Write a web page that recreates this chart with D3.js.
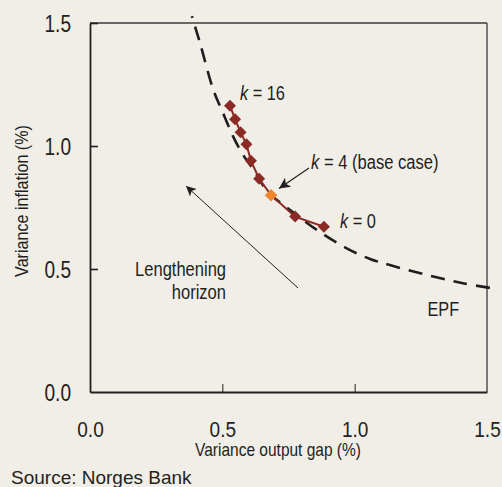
<!DOCTYPE html>
<html><head><meta charset="utf-8">
<script src="https://cdn.jsdelivr.net/npm/d3@7"></script>
<style>
html,body{margin:0;padding:0;background:#f1eee8;}
svg{display:block;}
text{font-family:"Liberation Sans",Arial,sans-serif;fill:#231f20;}
</style></head><body>
<svg id="c" width="502" height="487"></svg>
<script>
// Data
const xTicks = [0.0, 0.5, 1.0, 1.5];
const yTicks = [0.0, 0.5, 1.0, 1.5];
const xTickLabels = ["0.0", "0.5", "1.0", "1.5"];
const yTickLabels = ["0.0", "0.5", "1.0", "1.5"];
// Policy points from k = 16 down to k = 0
const kOutputGap = [0.529, 0.548, 0.569, 0.591, 0.608, 0.639, 0.684, 0.775, 0.884];
const kInflation = [1.164, 1.109, 1.056, 1.007, 0.940, 0.867, 0.800, 0.713, 0.672];
const baseCaseIndex = 6; // k = 4
// Efficient policy frontier (EPF)
const epfOutputGap = [0.385, 0.416, 0.466, 0.498, 0.541, 0.579, 0.62, 0.672, 0.756, 0.857, 0.970, 1.058, 1.133, 1.272, 1.409, 1.530];
const epfInflation = [1.528, 1.417, 1.228, 1.146, 1.038, 0.963, 0.90, 0.814, 0.740, 0.659, 0.584, 0.541, 0.516, 0.476, 0.442, 0.420];

const svg = d3.select("#c");
const L = 90, R = 487, T = 23, B = 392;
const x = d3.scaleLinear().domain([0, 1.5]).range([L, R]);
const y = d3.scaleLinear().domain([0, 1.5]).range([B, T]);
const COND = 0.83; // condensed look

const defs = svg.append("defs");
defs.append("marker").attr("id","ah").attr("viewBox","0 0 10 10").attr("refX",10).attr("refY",5)
  .attr("markerWidth",12).attr("markerHeight",10).attr("markerUnits","userSpaceOnUse").attr("orient","auto")
  .append("path").attr("d","M0,0 L10,5 L0,10 L2.5,5 Z").attr("fill","#231f20");
defs.append("marker").attr("id","ah2").attr("viewBox","0 0 10 10").attr("refX",10).attr("refY",5)
  .attr("markerWidth",13).attr("markerHeight",11).attr("markerUnits","userSpaceOnUse").attr("orient","auto")
  .append("path").attr("d","M0,0 L10,5 L0,10 L2.5,5 Z").attr("fill","#231f20");

// frame: top & right
svg.append("line").attr("x1",L).attr("x2",R).attr("y1",T).attr("y2",T).attr("stroke","#3a3a3a").attr("stroke-width",1.3);
svg.append("line").attr("x1",R).attr("x2",R).attr("y1",T).attr("y2",B).attr("stroke","#3a3a3a").attr("stroke-width",1.3);

// axes
const xAxis = d3.axisBottom(x).tickValues(xTicks).tickSize(-8).tickFormat((d,i)=>xTickLabels[i]).tickSizeOuter(0);
const gx = svg.append("g").attr("transform",`translate(0,${B})`).call(xAxis);
gx.select(".domain").attr("stroke","#231f20").attr("stroke-width",1.8);
gx.selectAll(".tick line").attr("stroke","#231f20").attr("stroke-width",1).filter(d=>d===0||d===1.5).remove();
gx.selectAll(".tick text").attr("font-size",22.5).attr("y",0).attr("dy","0.71em")
  .attr("transform",`translate(0,29) scale(${COND*1.02},1)`)
  .style("font-family",'"Liberation Sans",Arial,sans-serif').attr("fill","#231f20");

const yAxis = d3.axisLeft(y).tickValues(yTicks).tickSize(-8).tickFormat((d,i)=>yTickLabels[i]).tickSizeOuter(0);
const gy = svg.append("g").attr("transform",`translate(${L},0)`).call(yAxis);
gy.select(".domain").attr("stroke","#231f20").attr("stroke-width",1.8);
gy.selectAll(".tick line").attr("stroke","#231f20").attr("stroke-width",1.6).filter(d=>d===0).remove();
gy.selectAll(".tick text").attr("font-size",23).attr("x",0).attr("dy","0.36em")
  .attr("transform",`translate(-19,0) scale(${COND},1)`)
  .style("font-family",'"Liberation Sans",Arial,sans-serif').attr("fill","#231f20");
svg.selectAll(".domain").attr("fill","none");

// helper: condensed text fitted to a width
function fitText(tr, size, anchor, width, build){
  const g = svg.append("g").attr("transform", tr);
  const t = g.append("text").attr("font-size", size).attr("text-anchor", anchor);
  build(t);
  const w = t.node().getComputedTextLength();
  t.attr("transform", `scale(${width / w},1)`);
  return t;
}

// axis titles
fitText("translate(278,456)", 18, "middle", 166, t=>t.text("Variance output gap (%)"));
fitText("translate(28,201) rotate(-90)", 18.5, "middle", 152, t=>t.text("Variance inflation (%)"));
svg.append("text").attr("x",11).attr("y",484).attr("font-size",19).text("Source: Norges Bank");

// EPF curve
const epf = epfOutputGap.map((v,i)=>[v, epfInflation[i]]);
svg.append("path").datum(epf)
  .attr("d", d3.line().x(d=>x(d[0])).y(d=>y(d[1])).curve(d3.curveCatmullRom))
  .attr("fill","none").attr("stroke","#1f1d1d").attr("stroke-width",2.6)
  .attr("stroke-dasharray","14,9").attr("stroke-dashoffset",12);

// policy line
const pts = kOutputGap.map((v,i)=>[v, kInflation[i]]);
svg.append("path").datum(pts)
  .attr("d", d3.line().x(d=>x(d[0])).y(d=>y(d[1])))
  .attr("fill","none").attr("stroke","#8b2a24").attr("stroke-width",2);
const sym = d3.symbol().type(d3.symbolSquare);
svg.selectAll("path.pt").data(pts).join("path").attr("class","pt")
  .attr("transform",d=>`translate(${x(d[0])},${y(d[1])}) rotate(45)`)
  .attr("d",(d,i)=> sym.size(i===baseCaseIndex?80:72)())
  .attr("fill",(d,i)=> i===baseCaseIndex ? "#f0862e" : "#8b2a24");

// arrows
svg.append("line").attr("x1",298).attr("y1",288).attr("x2",186).attr("y2",186)
  .attr("stroke","#231f20").attr("stroke-width",1).attr("marker-end","url(#ah)");
svg.append("line").attr("x1",309).attr("y1",168).attr("x2",279).attr("y2",188.5)
  .attr("stroke","#231f20").attr("stroke-width",1.2).attr("marker-end","url(#ah2)");

// labels
function kLabel(xp, yp, rest, width){
  fitText(`translate(${xp},${yp})`, 20, "start", width, t=>{
    t.append("tspan").attr("font-style","italic").text("k");
    t.append("tspan").text(rest);
  });
}
kLabel(240, 100, " = 16", 45);
kLabel(311, 169, " = 4 (base case)", 127.7);
kLabel(340, 228, " = 0", 36);
fitText("translate(427.5,316)", 20, "start", 31.6, t=>t.text("EPF"));
fitText("translate(226,276)", 20, "end", 91, t=>t.text("Lengthening"));
fitText("translate(226,299)", 20, "end", 54.3, t=>t.text("horizon"));
</script>
</body></html>
